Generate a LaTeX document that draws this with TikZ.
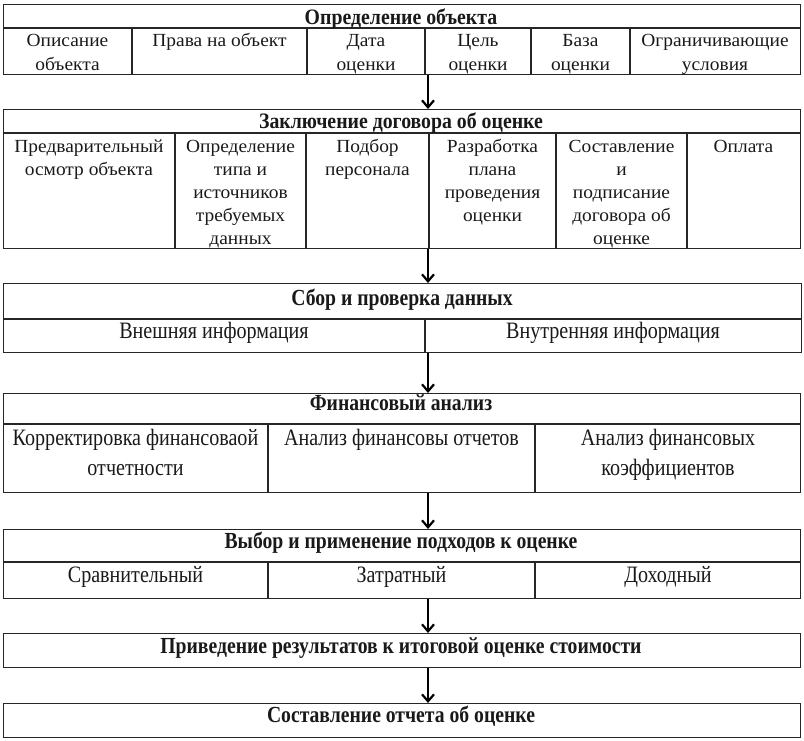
\documentclass[tikz,border=0pt]{standalone}
\usepackage{fontspec}
\setmainfont{Liberation Serif}
\newfontfamily\upfont[FakeStretch=1.05]{Liberation Serif}
\newfontfamily\upheadfont[FakeStretch=0.9]{Liberation Serif}
\newfontfamily\lowfont[FakeStretch=0.855]{Liberation Serif}
\usetikzlibrary{arrows.meta}
\newcommand\ts{\rule{0pt}{20pt}}
\tikzset{
  frame/.style={draw=black!85, line width=1.4pt, inner sep=0pt, anchor=north west},
  rule/.style={draw=black!85, line width=1.2pt},
  txt/.style={align=center, inner sep=0pt, anchor=north, text=black!90},
  up/.style={txt, font=\upfont\fontsize{18.5}{23.2}\selectfont},
  uphead/.style={txt, font=\upheadfont\fontsize{22}{24}\selectfont\bfseries},
  low/.style={txt, font=\lowfont\fontsize{23.5}{30}\selectfont},
  lowhead/.style={txt, font=\lowfont\fontsize{23}{30}\selectfont\bfseries},
  arr/.style={draw=black, line width=2.2pt, -{Straight Barb[length=7pt,width=12pt,line width=2.2pt]}},
}
\begin{document}
\begin{tikzpicture}[x=1pt,y=-1pt]
\useasboundingbox (0,0) rectangle (804,741);
% block 1
\node[frame, minimum width=797pt, minimum height=70pt] (b1) at (3,4) {};
\draw[rule] (3,28) -- (800,28);
\foreach \x in {132,307,425,531,630} \draw[rule] (\x,28) -- (\x,74);
\node[uphead] (h1) at (401,4) {\ts Определение объекта};
\node[up] (c11) at (67.5,26.7) {\ts Описание\\объекта};
\node[up] (c12) at (219.5,26.7) {\ts Права на объект};
\node[up] (c13) at (366,26.7) {\ts Дата\\оценки};
\node[up] (c14) at (478,26.7) {\ts Цель\\оценки};
\node[up] (c15) at (580.5,26.7) {\ts База\\оценки};
\node[up] (c16) at (715,26.7) {\ts Ограничивающие\\условия};
% block 2
\node[frame, minimum width=797pt, minimum height=139pt] (b2) at (3,109) {};
\draw[rule] (3,133) -- (800,133);
\foreach \x in {175,306,429,556,687} \draw[rule] (\x,133) -- (\x,248);
\node[uphead] (h2) at (401,108.3) {\ts Заключение договора об оценке};
\node[up, font=\upfont\fontsize{18.5}{23}\selectfont] (c21) at (89,132) {\ts Предварительный\\осмотр объекта};
\node[up, font=\upfont\fontsize{18.5}{23}\selectfont] (c22) at (240.5,132) {\ts Определение\\типа и\\источников\\требуемых\\данных};
\node[up, font=\upfont\fontsize{18.5}{23}\selectfont] (c23) at (367.5,132) {\ts Подбор\\персонала};
\node[up, font=\upfont\fontsize{18.5}{23}\selectfont] (c24) at (492.5,132) {\ts Разработка\\плана\\проведения\\оценки};
\node[up, font=\upfont\fontsize{18.5}{23}\selectfont] (c25) at (621.5,132) {\ts Составление\\и\\подписание\\договора об\\оценке};
\node[up, font=\upfont\fontsize{18.5}{23}\selectfont] (c26) at (743.5,132) {\ts Оплата};
% block 3
\node[frame, minimum width=798pt, minimum height=69pt] (b3) at (3,283) {};
\draw[rule] (3,319) -- (801,319);
\draw[rule] (425,319) -- (425,352);
\node[lowhead] (h3) at (402,285) {\ts Сбор и проверка данных};
\node[low] (c31) at (214,318) {\ts Внешняя информация};
\node[low] (c32) at (613,318) {\ts Внутренняя информация};
% block 4
\node[frame, minimum width=797pt, minimum height=99pt] (b4) at (3,393) {};
\draw[rule] (3,424) -- (800,424);
\foreach \x in {268,535} \draw[rule] (\x,424) -- (\x,492);
\node[lowhead] (h4) at (401,390) {\ts Финансовый анализ};
\node[low] (c41) at (135.5,425) {\ts Корректировка финансоваой\\отчетности};
\node[low] (c42) at (401.5,425) {\ts Анализ финансовы отчетов};
\node[low] (c43) at (668,425) {\ts Анализ финансовых\\коэффициентов};
% block 5
\node[frame, minimum width=797pt, minimum height=69pt] (b5) at (3,529) {};
\draw[rule] (3,562) -- (800,562);
\foreach \x in {268,535} \draw[rule] (\x,562) -- (\x,598);
\node[lowhead] (h5) at (401,528) {\ts Выбор и применение подходов к оценке};
\node[low] (c51) at (135.5,562) {\ts Сравнительный};
\node[low] (c52) at (401.5,562) {\ts Затратный};
\node[low] (c53) at (668,562) {\ts Доходный};
% block 6
\node[frame, minimum width=797pt, minimum height=34pt] (b6) at (3,633) {};
\node[lowhead] (h6) at (401,633) {\ts Приведение результатов к итоговой оценке стоимости};
% block 7
\node[frame, minimum width=797pt, minimum height=34pt] (b7) at (3,703) {};
\node[lowhead] (h7) at (401,702.5) {\ts Составление отчета об оценке};
% arrows
\coordinate (ax) at (428,0);
\draw[arr] (b1.south -| ax) -- (b2.north -| ax);
\draw[arr] (b2.south -| ax) -- (b3.north -| ax);
\draw[arr] (b3.south -| ax) -- (b4.north -| ax);
\draw[arr] (b4.south -| ax) -- (b5.north -| ax);
\draw[arr] (b5.south -| ax) -- (b6.north -| ax);
\draw[arr] (b6.south -| ax) -- (b7.north -| ax);
\end{tikzpicture}
\end{document}
